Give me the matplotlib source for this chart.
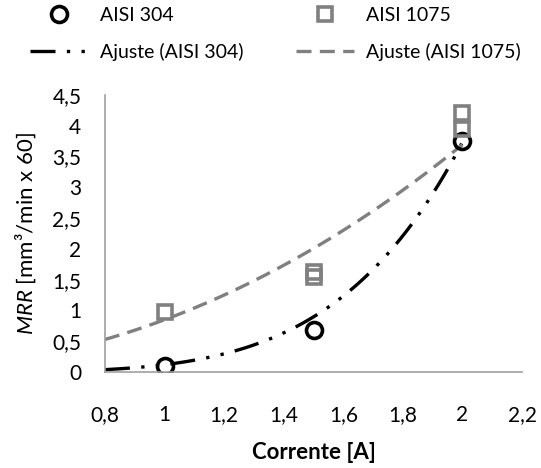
import numpy as np
import matplotlib.pyplot as plt
from matplotlib.ticker import FuncFormatter, MultipleLocator

plt.rcParams['font.family'] = ['Lato', 'DejaVu Sans']
plt.rcParams['mathtext.fontset'] = 'custom'
plt.rcParams['mathtext.it'] = 'Lato:italic'
plt.rcParams['mathtext.rm'] = 'Lato'

# medidas
corrente_304 = [1.0, 1.5, 2.0]
mrr_304 = [0.10, 0.68, 3.75]
corrente_1075 = [1.0, 1.5, 1.5, 2.0, 2.0]
mrr_1075 = [0.97, 1.62, 1.55, 4.20, 3.95]

# ajustes de potencia y = a * x^b
ajuste_304 = (0.12, 4.96)
ajuste_1075 = (0.85, 2.12)
x_ajuste = np.linspace(0.8, 2.0, 100)

cinza = '#808080'

fig = plt.figure(figsize=(5.41, 4.68), dpi=100)
ax = fig.add_axes([0.194, 0.205, 0.771, 0.592])

a, b = ajuste_304
l_fit304, = ax.plot(x_ajuste, a * x_ajuste ** b, color='black', lw=2.4,
                    linestyle=(0, (7.5, 3.4, 1.0, 3.4, 1.0, 3.4)))
a, b = ajuste_1075
l_fit1075, = ax.plot(x_ajuste, a * x_ajuste ** b, color=cinza, lw=2.4,
                     linestyle=(0, (4.5, 2.5)))

l_304, = ax.plot(corrente_304, mrr_304, 'o', mfc='none', mec='black',
                 mew=2.6, ms=11.5, linestyle='none')
l_1075, = ax.plot(corrente_1075, mrr_1075, 's', mfc='none', mec=cinza,
                  mew=2.6, ms=9.5, linestyle='none')

ax.set_xlim(0.8, 2.2)
ax.set_ylim(0, 4.5)
ax.xaxis.set_major_locator(MultipleLocator(0.2))
ax.yaxis.set_major_locator(MultipleLocator(0.5))
virgula = FuncFormatter(lambda v, p: ('%g' % round(v, 2)).replace('.', ','))
ax.xaxis.set_major_formatter(virgula)
ax.yaxis.set_major_formatter(virgula)
ax.tick_params(length=0, labelsize=15)
ax.tick_params(axis='x', pad=24)
ax.tick_params(axis='y', pad=17)

for s in ['top', 'right']:
    ax.spines[s].set_visible(False)
for s in ['left', 'bottom']:
    ax.spines[s].set_color('#a0a0a0')
    ax.spines[s].set_linewidth(1.2)

ax.set_xlabel('Corrente [A]', fontsize=16, fontweight='bold', labelpad=12)
ax.set_ylabel(r'$\mathit{MRR}$ [mm³/min x 60]', fontsize=16, labelpad=10)

fig.legend([l_304, l_fit304, l_1075, l_fit1075],
           ['AISI 304', 'Ajuste (AISI 304)', 'AISI 1075', 'Ajuste (AISI 1075)'],
           ncol=2, frameon=False, fontsize=14, handlelength=3.0,
           columnspacing=2.7, labelspacing=0.95, handletextpad=0.6,
           borderpad=0, borderaxespad=0,
           loc='upper left', bbox_to_anchor=(30 / 541, 1 - 7 / 468))

fig.savefig('out.png', dpi=100)
